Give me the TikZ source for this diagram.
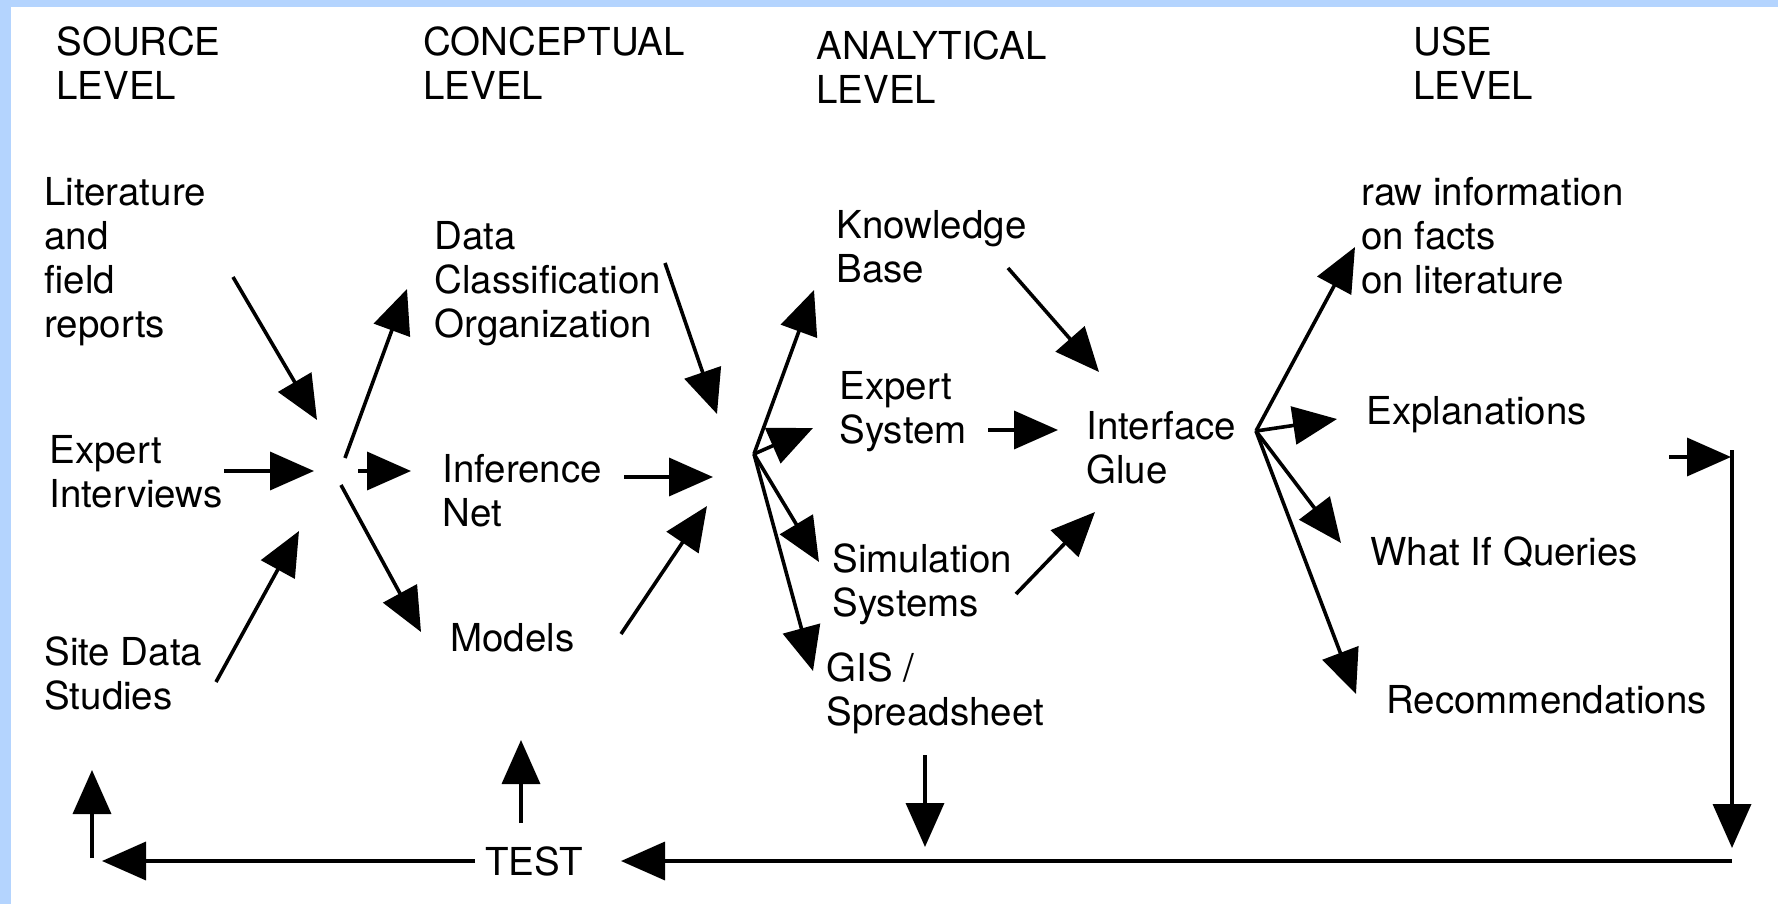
\documentclass[tikz,border=0pt]{standalone}
\usepackage{fontspec}
\setmainfont{TeX Gyre Heros}
\usetikzlibrary{arrows.meta}
\definecolor{frameblue}{RGB}{180,212,254}
\tikzset{
  lbl/.style={anchor=west, align=left, inner sep=0pt, font=\fontsize{19.25}{22}\selectfont},
  arr/.style={-{Triangle[length=22pt,width=19pt]}, line width=1.8pt}
}

\begin{document}
\begin{tikzpicture}[x=0.5pt,y=-0.5pt]
  \useasboundingbox (0,0) rectangle (1778,904);
  \fill[white] (0,0) rectangle (1778,904);
  \fill[frameblue] (0,0) rectangle (1778,7);
  \fill[frameblue] (0,0) rectangle (11,904);

  % headings
  \node[lbl] (src) at (56,63) {SOURCE\\LEVEL};
  \node[lbl] (con) at (423,63) {CONCEPTUAL\\LEVEL};
  \node[lbl] (ana) at (816,67) {ANALYTICAL\\LEVEL};
  \node[lbl] (use) at (1413,63) {USE\\LEVEL};

  % source level
  \node[lbl] (lit) at (44,262) {Literature\\and\\field\\reports};
  \node[lbl] (expi) at (49,472) {Expert\\Interviews};
  \node[lbl] (site) at (44,673) {Site Data\\Studies};

  % conceptual level
  \node[lbl] (data) at (434,284) {Data\\Classification\\Organization};
  \node[lbl] (inf) at (442,491) {Inference\\Net};
  \node[lbl] (mod) at (450,638) {Models};

  % analytical level
  \node[lbl] (kb) at (836,247) {Knowledge\\Base};
  \node[lbl] (es) at (839,412) {Expert\\System};
  \node[lbl] (sim) at (832,584) {Simulation\\Systems};
  \node[lbl] (gis) at (826,693) {GIS /\\Spreadsheet};
  \node[lbl] (glue) at (1086,448) {Interface\\Glue};

  % use level
  \node[lbl] (raw) at (1361,236) {raw information\\on facts\\on literature};
  \node[lbl] (expl) at (1366,415) {Explanations};
  \node[lbl] (wif) at (1370,552) {What If Queries};
  \node[lbl] (rec) at (1386,700) {Recommendations};
  \node[lbl] (test) at (485,861) {TEST};

  % arrow ends
  \coordinate (lit1) at (233,277);  \coordinate (lit2) at (317,420);
  \coordinate (exp1) at (224,471);  \coordinate (exp2) at (314,471);
  \coordinate (sit1) at (216,682);  \coordinate (sit2) at (299,531);
  \coordinate (h1a) at (345,458);   \coordinate (dat2) at (407,289);
  \coordinate (h1b) at (358,471);   \coordinate (inf2) at (411,471);
  \coordinate (h1c) at (341,485);   \coordinate (mod2) at (421,632);
  \coordinate (dat3) at (665,263);  \coordinate (h2a) at (717,414);
  \coordinate (inf3) at (624,477);  \coordinate (h2b) at (713,477);
  \coordinate (mod3) at (621,634);  \coordinate (h2c) at (707,506);
  \coordinate (h2) at (754,454);
  \coordinate (kb2) at (814,290);   \coordinate (es2) at (813,428);
  \coordinate (sim2) at (819,562);  \coordinate (gis2) at (813,671);
  \coordinate (kb3) at (1008,268);  \coordinate (g1) at (1099,372);
  \coordinate (es3) at (988,430);   \coordinate (g2) at (1058,430);
  \coordinate (sim3) at (1016,594); \coordinate (g3) at (1095,512);
  \coordinate (h3) at (1256,431);
  \coordinate (raw2) at (1355,247); \coordinate (expl2) at (1337,419);
  \coordinate (wif2) at (1341,543); \coordinate (rec2) at (1356,694);
  \coordinate (expl3) at (1669,457); \coordinate (r1) at (1731,457);
  \coordinate (r0) at (1732,450);   \coordinate (r2) at (1732,848);
  \coordinate (b0) at (1732,861);   \coordinate (b1) at (621,861);
  \coordinate (b2) at (102,861);
  \coordinate (l0) at (92,858);     \coordinate (l1) at (92,770);
  \coordinate (t0) at (521,823);    \coordinate (t1) at (521,740);
  \coordinate (gis3) at (925,755);  \coordinate (gis4) at (925,847);

  % source -> concept
  \draw[arr] (lit1) -- (lit2);
  \draw[arr] (exp1) -- (exp2);
  \draw[arr] (sit1) -- (sit2);
  \draw[arr] (h1a) -- (dat2);
  \draw[arr] (h1b) -- (inf2);
  \draw[arr] (h1c) -- (mod2);

  % concept -> analytical
  \draw[arr] (dat3) -- (h2a);
  \draw[arr] (inf3) -- (h2b);
  \draw[arr] (mod3) -- (h2c);
  \draw[arr] (h2) -- (kb2);
  \draw[arr] (h2) -- (es2);
  \draw[arr] (h2) -- (sim2);
  \draw[arr] (h2) -- (gis2);

  % analytical -> glue -> use
  \draw[arr] (kb3) -- (g1);
  \draw[arr] (es3) -- (g2);
  \draw[arr] (sim3) -- (g3);
  \draw[arr] (h3) -- (raw2);
  \draw[arr] (h3) -- (expl2);
  \draw[arr] (h3) -- (wif2);
  \draw[arr] (h3) -- (rec2);

  % feedback loop
  \draw[arr] (expl3) -- (r1);
  \draw[arr] (r0) -- (r2);
  \draw[arr] (b0) -- (b1);
  \draw[arr, shorten <=5pt] (test) -- (b2);
  \draw[arr] (l0) -- (l1);
  \draw[arr] (t0) -- (t1);
  \draw[arr] (gis3) -- (gis4);
\end{tikzpicture}
\end{document}
